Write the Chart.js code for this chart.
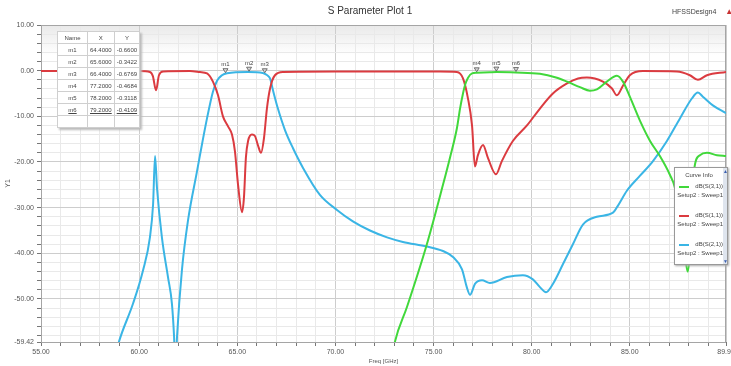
<!DOCTYPE html>
<html>
<head>
<meta charset="utf-8">
<script src="https://cdn.jsdelivr.net/npm/chart.js@4.4.1/dist/chart.umd.min.js"></script>
<style>
  html, body { margin: 0; padding: 0; background: #fff; }
  #wrap { position: relative; width: 731px; height: 366px; overflow: hidden;
          font-family: "Liberation Sans", Arial, sans-serif; color: #333; }
  #plot { position: absolute; left: 0; top: 0; }
  .plot-title { position: absolute; left: 0; width: 740px; top: 5px; text-align: center; font-size: 10px; color: #333; }
  .design { position: absolute; left: 672px; top: 7px; font-size: 7px; color: #444; }
  .design b { color: #c83232; font-size: 8px; margin-left: 9px; }
  #markers { position: absolute; left: 57px; top: 31px; border-collapse: collapse; background: #fff;
             border: 1px solid #8a8a8a; box-shadow: 2px 2px 2px #bbb; font-size: 6px; color: #444; }
  #markers td, #markers th { border: 1px solid #cfcfcf; height: 11px; padding: 0 2px; font-weight: normal; text-align: center; }
  #markers td.sel { text-decoration: underline; }
  #curveInfo { position: absolute; left: 674px; top: 167px; width: 52px; height: 96px; background: #fff;
               border: 1px solid #999; box-shadow: 1px 1px 2px #aaa; font-size: 6px; color: #444; }
  #curveInfo .head { position: absolute; left: 0; width: 48px; top: 4px; text-align: center; }
  #curveInfo .ent { position: absolute; left: 2px; width: 46px; }
  #curveInfo .sw { position: absolute; left: 2px; top: 3px; width: 10px; height: 2px; }
  #curveInfo .nm { position: absolute; right: 0; top: 0; }
  #curveInfo .st { position: absolute; right: 0; top: 9px; white-space: nowrap; }
  #curveInfo .bar { position: absolute; right: 0; top: 0; width: 4px; height: 96px; background: #dfe5ee; }
  #curveInfo .bar span { position: absolute; left: 0; font-size: 5px; color: #3a5fb0; }
</style>
</head>
<body>
<div id="wrap">
  <canvas id="plot" width="731" height="366"></canvas>
  <div class="plot-title">S Parameter Plot 1</div>
  <div class="design">HFSSDesign4<b>▲</b></div>
  <table id="markers"></table>
  <div id="curveInfo">
    <div class="head">Curve Info</div>
    <div class="bar"><span style="top:0">▲</span><span style="bottom:0">▼</span></div>
  </div>
</div>
<script>
// ── DATA ──
const freqS11 = [55, 60.04, 60.55, 60.7, 60.86, 61.01, 61.22, 62.59, 63.1, 63.46, 63.76, 64.02, 64.27, 64.53, 64.73, 64.88, 65.04,
  65.24, 65.34, 65.44, 65.55, 65.75, 65.9, 66.05, 66.21, 66.36, 66.51, 66.67, 66.92, 67.33, 70, 75.33, 76.19, 76.5, 76.75, 76.96, 77.11,
  77.26, 77.52, 77.77, 78.18, 78.48, 79.04, 79.76, 80.42, 81.08, 81.8, 82.36, 82.81, 83.63, 84.09, 84.34, 84.65, 85.0, 85.67, 87.4, 88.06,
  88.47, 88.93, 89.9];
const dbS11 = [-0.1, -0.1, -0.3, -1.2, -4.3, -1.0, -0.2, -0.1, -0.3, -0.6, -2.4, -5.4, -10, -12.2, -14, -17.6, -25,
  -31, -27.8, -19, -15.4, -14, -14.3, -16.3, -18, -14.8, -8.3, -3.9, -1.0, -0.3, -0.2, -0.2, -0.3, -1.7, -6, -12, -21,
  -18.5, -16.3, -19.1, -22.7, -19.8, -15.4, -12, -8.3, -5, -2.8, -1.7, -1.5, -2.4, -3.9, -5.4, -3.3, -1.0, -0.1, -0.2, -1.0,
  -2.0, -1.0, -0.3];

const freqS21 = [58.82, 58.97, 59.69, 60.2, 60.55, 60.71, 60.81, 60.91, 61.16, 61.47, 61.67, 61.78, 61.85, 61.93, 62.18, 62.49,
  62.95, 63.1, 63.46, 63.76, 63.97, 64.22, 64.48, 65.55, 66.3, 66.51, 66.67, 66.82, 67.07, 67.43, 67.84, 68.35, 69.21, 70.08, 70.89,
  71.76, 72.63, 73.44, 74.66, 75.48, 75.99, 76.45, 76.7, 76.86, 77.11, 77.47, 77.87, 78.74, 79.55, 80.06, 80.42, 80.73, 81.08, 81.59,
  82.1, 82.61, 83.32, 84.14, 84.39, 84.85, 85.52, 86.18, 86.89, 87.56, 88.16, 88.47, 88.72, 89.23, 89.9];
const dbS21 = [-62, -59.4, -51, -43.7, -36.5, -29.3, -18.7, -25.7, -36.5, -45.2, -51, -58.3, -66, -58.3, -43.7, -32.8,
  -22, -18.5, -10.4, -4.6, -2.2, -1.0, -0.55, -0.3, -0.5, -0.95, -1.7, -4.3, -8.3, -13, -17, -21.3, -27.2, -30.5, -33.0,
  -35.0, -36.5, -37.5, -38.5, -39.5, -40.8, -43.5, -47.5, -49.1, -46.7, -45.9, -46.5, -45.2, -44.8, -45.7, -47.4, -48.5, -46.7, -42.4,
  -38, -33.7, -32, -31.1, -29.6, -26.3, -23, -19.8, -15.4, -10.4, -6.1, -4.8, -5.7, -7.6, -9.3];

const freqS31 = [72.88, 73.03, 73.65, 74.66, 75.48, 75.84, 76.19, 76.35, 76.5, 76.6, 76.75, 76.96, 77.2, 77.87, 78.2, 79.2,
  80.42, 81.24, 81.8, 82.46, 82.97, 83.32, 83.83, 84.34, 84.65, 85.0, 85.52, 86.03, 86.53, 87.04, 87.3, 87.56, 87.86, 87.95,
  88.3, 88.57, 88.93, 89.44, 89.9];
const dbS31 = [-63, -59.4, -51.7, -38, -25, -19, -12.6, -8.3, -5.0, -3.2, -1.6, -0.6, -0.47, -0.35, -0.31, -0.41,
  -0.7, -1.5, -2.4, -3.6, -4.4, -4.1, -2.4, -1.1, -2.4, -5.7, -11, -15.4, -18.7, -22.8, -25.7, -33, -42, -44,
  -21, -18.5, -18, -18.5, -18.7];

// markers: name, freq, value
const markerNames = ['m1', 'm2', 'm3', 'm4', 'm5', 'm6'];
const markerFreq = [64.4, 65.6, 66.4, 77.2, 78.2, 79.2];
const markerDb = [-0.66, -0.3422, -0.6769, -0.4684, -0.3118, -0.4109];

// ticks
const xMajor = [55, 60, 65, 70, 75, 80, 85, 89.9];
const yMajor = [-59.42, -50, -40, -30, -20, -10, 0, 10];
const xMin = 55, xMax = 89.9, yMin = -59.42, yMax = 10;

const curves = [
  { name: 'dB(S(3,1))', color: '#41d83b', freq: freqS31, db: dbS31 },
  { name: 'dB(S(1,1))', color: '#db3b40', freq: freqS11, db: dbS11 },
  { name: 'dB(S(2,1))', color: '#3ab5e5', freq: freqS21, db: dbS21 }
];

function toPts(f, d) {
  return f.map((v, i) => ({ x: v, y: d[i] }));
}

// x ticks every 1 GHz, labelled every 5
const xTicks = [];
for (let v = 55; v <= 89; v++) xTicks.push(v);
xTicks.push(89.9);
// y ticks every 2 dB, labelled every 10
const yTicks = [yMin];
for (let v = -58; v <= 10; v += 2) yTicks.push(v);

// ── PLUGINS ──
const plotFrame = {
  id: 'plotFrame',
  beforeDraw(chart) {
    const a = chart.chartArea, c = chart.ctx;
    const g = c.createLinearGradient(0, a.top, 0, a.top + 30);
    g.addColorStop(0, '#e9e9e9');
    g.addColorStop(1, '#ffffff');
    c.save();
    c.fillStyle = g;
    c.fillRect(a.left, a.top, a.right - a.left, 30);
    c.restore();
  },
  beforeDatasetsDraw(chart) {
    const a = chart.chartArea, c = chart.ctx;
    c.save();
    c.strokeStyle = '#a5a5a5';
    c.lineWidth = 1;
    c.strokeRect(a.left + 0.5, a.top + 0.5, a.right - a.left - 1, a.bottom - a.top);
    c.restore();
  }
};

const markerPlugin = {
  id: 'markerPlugin',
  afterDatasetsDraw(chart) {
    const x = chart.scales.x, y = chart.scales.y, c = chart.ctx;
    c.save();
    c.font = '6px "Liberation Sans", Arial, sans-serif';
    c.textAlign = 'center';
    c.textBaseline = 'bottom';
    markerNames.forEach((n, i) => {
      const px = x.getPixelForValue(markerFreq[i]);
      const py = y.getPixelForValue(markerDb[i]);
      c.beginPath();
      c.moveTo(px - 2.5, py - 5);
      c.lineTo(px + 2.5, py - 5);
      c.lineTo(px, py - 1);
      c.closePath();
      c.fillStyle = '#d8d8d8';
      c.fill();
      c.strokeStyle = '#555';
      c.lineWidth = 0.8;
      c.stroke();
      c.fillStyle = '#444';
      c.fillText(n, px, py - 6);
    });
    c.restore();
  }
};

// ── CHART ──
const ctx = document.getElementById('plot').getContext('2d');
const chart = new Chart(ctx, {
  type: 'line',
  data: {
    datasets: curves.map(cv => ({
      label: cv.name,
      data: toPts(cv.freq, cv.db),
      borderColor: cv.color,
      backgroundColor: cv.color,
      borderWidth: 2,
      pointRadius: 0,
      cubicInterpolationMode: 'monotone',
      fill: false
    }))
  },
  options: {
    responsive: false,
    animation: false,
    events: [],
    layout: { padding: { top: 25, right: 5, left: 0, bottom: 0 } },
    plugins: {
      legend: { display: false },
      tooltip: { enabled: false },
      title: { display: false }
    },
    scales: {
      x: {
        type: 'linear',
        min: xMin,
        max: xMax,
        afterBuildTicks: s => { s.ticks = xTicks.map(v => ({ value: v })); },
        afterFit: s => { s.height = 24; s.paddingLeft = 0; s.paddingRight = 0; },
        ticks: {
          autoSkip: false,
          maxRotation: 0,
          padding: 2,
          color: '#555',
          font: { size: 7, family: '"Liberation Sans", Arial, sans-serif' },
          callback: v => xMajor.includes(v) ? v.toFixed(2) : ''
        },
        grid: {
          color: c => (c.tick && xMajor.includes(c.tick.value)) ? '#cdcdcd' : '#e9e9e9',
          tickColor: '#777',
          tickLength: 4
        },
        border: { color: '#777' },
        title: {
          display: true,
          text: 'Freq [GHz]',
          color: '#555',
          font: { size: 6, family: '"Liberation Sans", Arial, sans-serif' },
          padding: { top: 0, bottom: 1 }
        }
      },
      y: {
        type: 'linear',
        min: yMin,
        max: yMax,
        afterBuildTicks: s => { s.ticks = yTicks.map(v => ({ value: v })); },
        afterFit: s => { s.width = 41; s.paddingTop = 0; s.paddingBottom = 0; },
        ticks: {
          autoSkip: false,
          padding: 3,
          color: '#555',
          font: { size: 7, family: '"Liberation Sans", Arial, sans-serif' },
          callback: v => yMajor.includes(v) ? v.toFixed(2) : ''
        },
        grid: {
          color: c => (c.tick && yMajor.includes(c.tick.value)) ? '#cdcdcd' : '#e9e9e9',
          tickColor: '#777',
          tickLength: 4
        },
        border: { color: '#777' },
        title: {
          display: true,
          text: 'Y1',
          color: '#555',
          font: { size: 7, family: '"Liberation Sans", Arial, sans-serif' },
          padding: { top: 4, bottom: 0 }
        }
      }
    }
  },
  plugins: [plotFrame, markerPlugin]
});

// ── MARKER TABLE ──
const tbl = document.getElementById('markers');
let html = '<tr><th style="width:25px">Name</th><th style="width:20px">X</th><th style="width:20px">Y</th></tr>';
markerNames.forEach((n, i) => {
  const sel = i === markerNames.length - 1 ? ' class="sel"' : '';
  html += '<tr><td' + sel + '>' + n + '</td><td' + sel + '>' + markerFreq[i].toFixed(4) +
          '</td><td' + sel + '>' + markerDb[i].toFixed(4) + '</td></tr>';
});
html += '<tr><td></td><td></td><td></td></tr>';
tbl.innerHTML = html;

// ── CURVE INFO ──
const info = document.getElementById('curveInfo');
curves.forEach((cv, i) => {
  const d = document.createElement('div');
  d.className = 'ent';
  d.style.top = (15 + i * 29) + 'px';
  d.innerHTML = '<div class="sw" style="background:' + cv.color + '"></div>' +
                '<div class="nm">' + cv.name + '</div>' +
                '<div class="st">Setup2 : Sweep1</div>';
  info.appendChild(d);
});
</script>
</body>
</html>
